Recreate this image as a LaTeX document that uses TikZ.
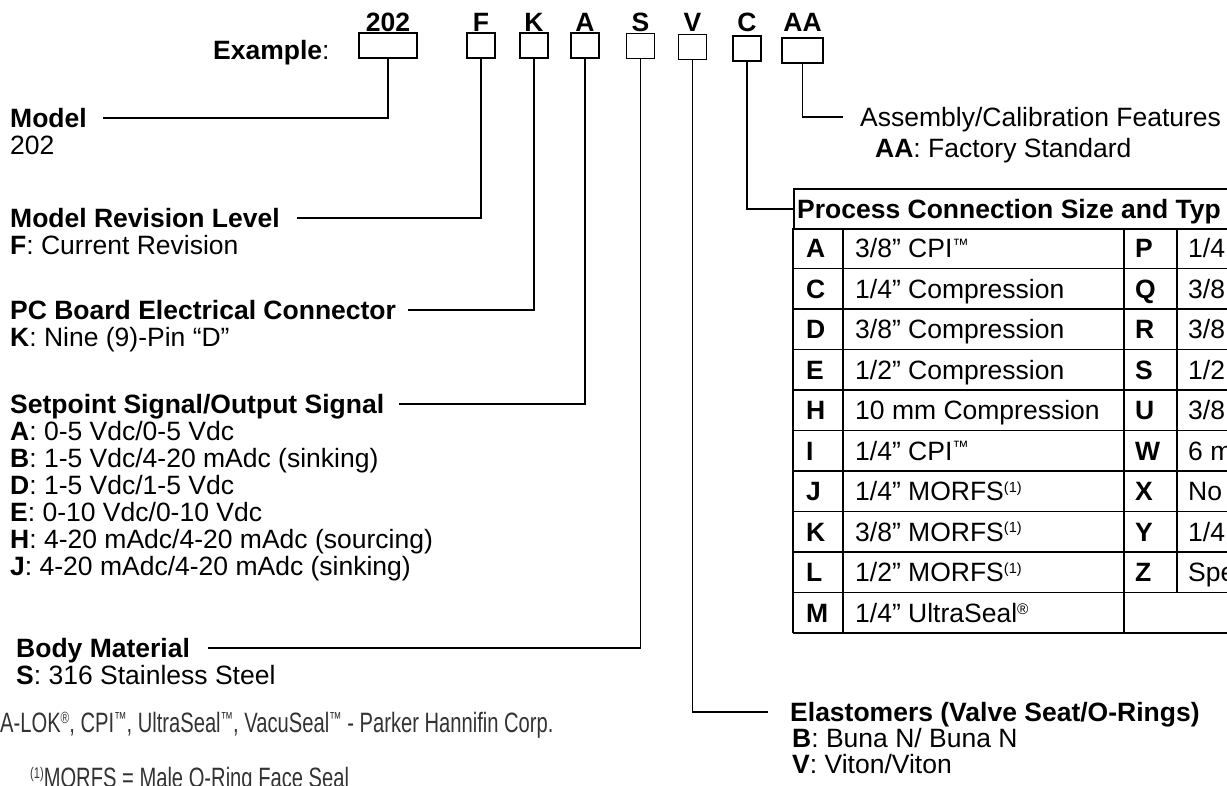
\documentclass[tikz,border=0pt]{standalone}
\usepackage{fontspec}
\usepackage{graphicx}
\setmainfont{Liberation Sans}
\newfontfamily\narrowfont[FakeStretch=0.72]{Liberation Sans}
\usetikzlibrary{positioning}

\newcommand{\keyfont}{\fontsize{26.5}{27}\selectfont}
\newcommand{\tmsign}{\raisebox{.28em}{\scalebox{.62}{™}}}
\newcommand{\regsign}{\raisebox{.3em}{\scalebox{.58}{®}}}
\newcommand{\fnone}{\raisebox{.32em}{\scalebox{.55}{(1)}}}

\tikzset{
  codebox/.style={draw, line width=1.7pt, minimum height=25pt, minimum width=28pt, inner sep=0pt},
  codelbl/.style={font=\keyfont\bfseries, inner sep=0pt, anchor=base},
  keyline/.style={font=\keyfont, anchor=west, inner sep=0pt, text height=19pt, text depth=0pt},
  keytitle/.style={keyline, font=\keyfont\bfseries},
  lead/.style={draw, line width=1.5pt},
  tabline/.style={line width=1.7pt},
  note/.style={font=\fontsize{28}{30}\narrowfont, anchor=west, inner sep=0pt,
               text height=20pt, text depth=0pt, text=black!80}
}

\begin{document}
\begin{tikzpicture}[x=1pt, y=-1pt]
    \useasboundingbox (0,0) rectangle (1227,785);
    \clip (0,0) rectangle (1227,785);

    % ordering code boxes
    \node[codebox, minimum width=58pt] (b202) at (388,45.5) {};
    \node[codebox] (bF) at (481,45.5) {};
    \node[codebox] (bK) at (534,45.5) {};
    \node[codebox] (bA) at (585,45.5) {};
    \node[codebox] (bS) at (640.5,46) {};
    \node[codebox] (bV) at (692.5,47) {};
    \node[codebox] (bC) at (747,48.5) {};
    \node[codebox, minimum width=41pt] (bAA) at (802.5,50.5) {};
    \coordinate (lblrow) at (0,31.5);
    \foreach \b/\t in {b202/202, bF/F, bK/K, bA/A, bS/S, bV/V, bC/C, bAA/AA}
        \node[codelbl] (l\b) at (\b.north |- lblrow) {\t};
    \node[keyline] (ex) at (213,50) {\textbf{Example}:};

    % left column
    \node[keytitle] (tModel) at (10,118) {Model};
    \node[keyline, below=27pt of tModel.west, anchor=west] (vModel) {202};
    \node[keytitle] (tRev) at (10,218) {Model Revision Level};
    \node[keyline, below=27pt of tRev.west, anchor=west] (vRev) {\textbf{F}: Current Revision};
    \node[keytitle] (tPcb) at (10,310) {PC Board Electrical Connector};
    \node[keyline, below=27pt of tPcb.west, anchor=west] (vPcb) {\textbf{K}: Nine (9)-Pin “D”};
    \node[keytitle] (tSig) at (10,404) {Setpoint Signal/Output Signal};
    \foreach \c/\t [count=\i] in {A/{0-5 Vdc/0-5 Vdc}, B/{1-5 Vdc/4-20 mAdc (sinking)},
            D/{1-5 Vdc/1-5 Vdc}, E/{0-10 Vdc/0-10 Vdc},
            H/{4-20 mAdc/4-20 mAdc (sourcing)}, J/{4-20 mAdc/4-20 mAdc (sinking)}}
        \node[keyline] (vSig\c) at ([yshift=-\i*27pt]tSig.west) {\textbf{\c}: \t};
    \node[keytitle] (tBody) at (16,648) {Body Material};
    \node[keyline, below=27pt of tBody.west, anchor=west] (vBody) {\textbf{S}: 316 Stainless Steel};

    \node[note] (nTm) at (0,722) {A-LOK\regsign, CPI\tmsign, UltraSeal\tmsign, VacuSeal\tmsign{} - Parker Hannifin Corp.};
    \node[note] (nMorfs) at (30,777) {\fnone MORFS = Male O-Ring Face Seal};

    % right column
    \node[keyline] (tAsm) at (860,117) {Assembly/Calibration Features};
    \node[keyline, below right=31pt and 15pt of tAsm.west, anchor=west] (vAsm) {\textbf{AA}: Factory Standard};
    \node[keytitle] (tEla) at (790,712) {Elastomers (Valve Seat/O-Rings)};
    \node[keyline, below right=26pt and 2pt of tEla.west, anchor=west] (vElaB) {\textbf{B}: Buna N/ Buna N};
    \node[keyline, below=26pt of vElaB.west, anchor=west] (vElaV) {\textbf{V}: Viton/Viton};

    % connection table
    \node[draw, tabline, anchor=north west, minimum width=480pt, minimum height=40pt, inner sep=0pt] (hdr) at (793,188) {};
    \node[keytitle, right=4pt of hdr.west, anchor=west] (hdrTxt) {Process Connection Size and Typ};
    \foreach \r in {1,...,10}
        \draw[tabline] (793,{228+40.5*\r}) -- (1240,{228+40.5*\r});
    \draw[tabline] (793,228) -- (793,633);
    \draw[tabline] (843,228) -- (843,633);
    \draw[tabline] (1124,228) -- (1124,633);
    \draw[tabline] (1177,228) -- (1177,592.5);
    \foreach \ca/\da/\cb/\db [count=\r from 0] in {
            A/{3/8” CPI\tmsign}/P/{1/4},
            C/{1/4” Compression}/Q/{3/8},
            D/{3/8” Compression}/R/{3/8},
            E/{1/2” Compression}/S/{1/2},
            H/{10 mm Compression}/U/{3/8},
            I/{1/4” CPI\tmsign}/W/{6 m},
            J/{1/4” MORFS\fnone}/X/{No},
            K/{3/8” MORFS\fnone}/Y/{1/4},
            L/{1/2” MORFS\fnone}/Z/{Spe},
            M/{1/4” UltraSeal\regsign}/{}/{}} {
        \node[keytitle] (ca\r) at (806,{248.25+40.5*\r}) {\ca};
        \node[keyline] (da\r) at (855,{248.25+40.5*\r}) {\da};
        \node[keytitle] (cb\r) at (1135,{248.25+40.5*\r}) {\cb};
        \node[keyline] (db\r) at (1188,{248.25+40.5*\r}) {\db};
    }

    % leader lines
    \draw[lead] (b202.south) |- ([xshift=16pt]tModel.east);
    \draw[lead] (bF.south) |- ([xshift=17pt]tRev.east);
    \draw[lead] (bK.south) |- ([xshift=12pt]tPcb.east);
    \draw[lead] (bA.south) |- ([xshift=15pt]tSig.east);
    \draw[lead] (bS.south) |- ([xshift=18pt]tBody.east);
    \draw[lead] (bV.south) |- ([xshift=-22pt]tEla.west);
    \draw[lead] (bC.south) |- (hdr.west);
    \draw[lead] (bAA.south) |- ([xshift=-17pt]tAsm.west);
\end{tikzpicture}
\end{document}
